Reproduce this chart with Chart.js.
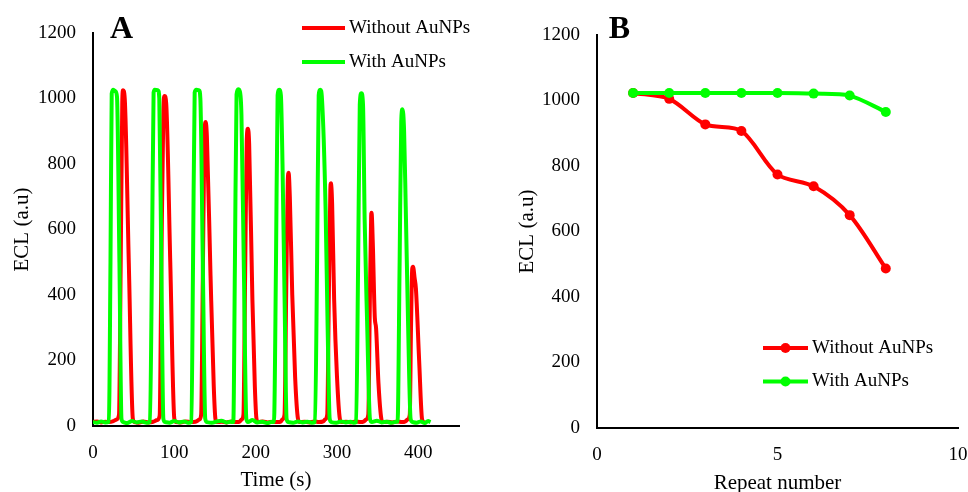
<!DOCTYPE html>
<html>
<head>
<meta charset="utf-8">
<title>ECL</title>
<script src="https://cdn.jsdelivr.net/npm/chart.js@4.4.1/dist/chart.umd.min.js"></script>
<style>
    html, body { margin: 0; padding: 0; background: #fff; }
    #contenedor { position: relative; width: 968px; height: 492px; }
    .panel { position: absolute; top: 0; height: 492px; }
    #panelA { left: 0; width: 484px; }
    #panelB { left: 505px; width: 463px; }
</style>
</head>
<body>
<div id="contenedor">
    <div class="panel" id="panelA"><canvas id="myChartA"></canvas></div>
    <div class="panel" id="panelB"><canvas id="myChartB"></canvas></div>
</div>
<script>
// Panel A: ECL vs tiempo, pares [tiempo (s), ECL]
var sinAuNPs = [
    [0,12],[5,14],[10,11],[15,13],[20,12],[25,15],[29,20],[32,35],[34,480],[36,990],[37,1025],[39,1000],[44,500],[49,22],[51,12],
    [56,10],[62,14],[68,11],[74,13],[79,18],[82,32],[84,480],[86.5,960],[88,1008],[90,985],[95,500],[100,22],[102,12],
    [108,11],[114,14],[120,12],[126,13],[131,20],[133,35],[135,450],[137,880],[138.5,928],[140,885],[144.5,460],[148.5,120],[150.5,22],[152,12],
    [158,13],[164,11],[170,14],[176,12],[180,13],[183,20],[185,35],[187,450],[189,870],[190.5,908],[192,860],[196,385],[199,120],[201,22],[203,12],
    [209,14],[215,11],[221,13],[227,12],[231,14],[233,20],[235.5,35],[237.5,400],[239.5,750],[240.5,773],[242,700],[245,400],[248.5,150],[252,22],[254,12],
    [260,13],[266,11],[272,14],[278,12],[283,14],[285.5,20],[288,35],[290,400],[291.8,720],[292.5,741],[294,680],[296.5,385],[300,150],[303.5,22],[305.5,12],
    [311,13],[317,11],[323,14],[329,12],[333,14],[336,20],[338.5,35],[340.5,400],[342,640],[342.5,651],[344,560],[346.5,330],[348,300],[351,130],[354.5,22],[356.5,12],
    [362,13],[368,11],[374,14],[380,12],[384,14],[387,20],[389.5,35],[391,300],[392.5,480],[393.5,486],[395.5,450],[397,420],[401,200],[404.5,22],[406.5,12]
];
var conAuNPs = [
    [0,12],[5,10],[10,14],[15,11],[19.5,13],[21.5,500],[23,1015],[25,1027],[27.5,1022],[29.5,1005],[32.5,500],[35,22],[37,12],
    [42,9],[48,15],[54,11],[60,14],[66,10],[70,13],[72.5,500],[74.5,1018],[76,1027],[80,1025],[81.5,1000],[84,500],[86.5,22],[88.5,12],
    [94,10],[100,15],[106,11],[112,14],[117,10],[121,13],[123,500],[125,1018],[127,1027],[130.5,1025],[132,1000],[135,500],[138,22],[140,12],
    [146,10],[152,14],[158,16],[164,11],[169,13],[172.5,12],[174.5,500],[176.5,1012],[178.5,1028],[180.5,1022],[182.5,950],[185.5,480],[188.5,22],[190.5,12],
    [196,18],[202,11],[208,13],[214,9],[219,12],[222.5,13],[225,500],[227,1010],[229,1027],[231,1010],[233,800],[235.5,400],[238,22],[240,12],
    [246,10],[252,14],[258,11],[264,13],[269,10],[273,12],[275.5,500],[277.5,1010],[279.5,1027],[281.5,1000],[286,660],[288.5,300],[291,22],[293,12],
    [299,10],[305,14],[311,11],[317,13],[320.5,10],[323.5,12],[326,500],[328,980],[330,1016],[332,980],[334,630],[337,320],[340.5,22],[343,12],
    [349,16],[355,11],[361,13],[367,10],[371.5,12],[374.5,13],[377,500],[379,930],[380.5,967],[382.5,900],[384.5,670],[387.5,300],[390.5,22],[393,12],
    [398,10],[403,14],[408,9],[412,15],[415,12]
];

// Panel B: ECL vs numero de repeticion
var repeticion = [1, 2, 3, 4, 5, 6, 7, 8];
var eclSinAuNPs = [1023, 1005, 927, 907, 774, 738, 650, 487];
var eclConAuNPs = [1023, 1023, 1023, 1023, 1023, 1021, 1015, 965];

var etiquetas = ['Without AuNPs', 'With AuNPs'];
var rojo = '#ff0000';
var verde = '#00ff00';
var fuente = "'Times New Roman', 'Liberation Serif', serif";

// leyenda y letra del panel dibujadas a mano
var leyendaManual = {
    id: 'leyendaManual',
    afterDraw: function (chart, args, opts) {
        var ctx = chart.ctx;
        ctx.save();
        ctx.font = '19px ' + fuente;
        ctx.textBaseline = 'middle';
        ctx.textAlign = 'left';
        chart.data.datasets.forEach(function (ds, i) {
            var y = opts.y + i * opts.sep;
            ctx.strokeStyle = ds.borderColor;
            ctx.lineWidth = 4;
            ctx.beginPath();
            ctx.moveTo(opts.x, y);
            ctx.lineTo(opts.x + opts.largo, y);
            ctx.stroke();
            if (opts.marcador) {
                ctx.fillStyle = ds.borderColor;
                ctx.beginPath();
                ctx.arc(opts.x + opts.largo / 2, y, 5, 0, Math.PI * 2);
                ctx.fill();
            }
            ctx.fillStyle = '#000';
            ctx.fillText(ds.label, opts.x + opts.largo + 4, y);
        });
        ctx.font = 'bold 32px ' + fuente;
        ctx.textAlign = 'center';
        ctx.fillStyle = '#000';
        ctx.fillText(opts.letra, opts.letraX, opts.letraY);
        ctx.restore();
    }
};

function puntos(pares) {
    return pares.map(function (p) { return { x: p[0], y: p[1] }; });
}

function sinComas(valor) {
    return String(valor);
}

function ejes(xmax, xpaso, titulo, altoX, anchoY, tituloLH, tituloPad) {
    return {
        x: {
            type: 'linear', min: 0, max: xmax,
            grid: { display: false, drawTicks: false },
            border: { display: true, color: '#000', width: 2 },
            ticks: { stepSize: xpaso, includeBounds: false, padding: 15.5, maxRotation: 0, color: '#000', font: { family: fuente, size: 19 }, callback: sinComas },
            title: { display: true, text: titulo, color: '#000', font: { family: fuente, size: 21, lineHeight: tituloLH }, padding: { top: 0, bottom: tituloPad } },
            afterFit: function (s) { s.height = altoX; s.paddingLeft = 0; s.paddingRight = 0; }
        },
        y: {
            type: 'linear', min: 0, max: 1200,
            grid: { display: false, drawTicks: false },
            border: { display: true, color: '#000', width: 2 },
            ticks: { stepSize: 200, padding: 17, color: '#000', font: { family: fuente, size: 19 }, callback: sinComas },
            title: { display: true, text: 'ECL (a.u)', color: '#000', font: { family: fuente, size: 21, lineHeight: 1 }, padding: { top: 11.5, bottom: 0 } },
            afterFit: function (s) { s.width = anchoY; s.paddingTop = 0; s.paddingBottom = 0; }
        }
    };
}

var myChartA = new Chart(document.getElementById('myChartA'), {
    type: 'line',
    data: {
        datasets: [{
            label: etiquetas[0],
            data: puntos(sinAuNPs),
            borderColor: rojo,
            backgroundColor: rojo,
            borderWidth: 4,
            pointRadius: 0,
            cubicInterpolationMode: 'monotone',
            order: 1
        }, {
            label: etiquetas[1],
            data: puntos(conAuNPs),
            borderColor: verde,
            backgroundColor: verde,
            borderWidth: 4,
            pointRadius: 0,
            cubicInterpolationMode: 'monotone',
            order: 0
        }]
    },
    options: {
        responsive: true,
        maintainAspectRatio: false,
        animation: false,
        layout: { padding: { top: 33, right: 25, left: 0, bottom: 0 } },
        scales: ejes(450, 100, 'Time (s)', 66, 93, 1, 1.5),
        plugins: {
            legend: { display: false },
            tooltip: { enabled: false },
            leyendaManual: { x: 302, y: 28, sep: 34, largo: 43, marcador: false, letra: 'A', letraX: 121.5, letraY: 30 }
        }
    },
    plugins: [leyendaManual]
});

var myChartB = new Chart(document.getElementById('myChartB'), {
    type: 'line',
    data: {
        datasets: [{
            label: etiquetas[0],
            data: repeticion.map(function (r, i) { return { x: r, y: eclSinAuNPs[i] }; }),
            borderColor: rojo,
            backgroundColor: rojo,
            borderWidth: 4,
            pointRadius: 5,
            pointBackgroundColor: rojo,
            pointBorderWidth: 0,
            tension: 0.3,
            order: 1
        }, {
            label: etiquetas[1],
            data: repeticion.map(function (r, i) { return { x: r, y: eclConAuNPs[i] }; }),
            borderColor: verde,
            backgroundColor: verde,
            borderWidth: 4,
            pointRadius: 5,
            pointBackgroundColor: verde,
            pointBorderWidth: 0,
            tension: 0.3,
            order: 0
        }]
    },
    options: {
        responsive: true,
        maintainAspectRatio: false,
        animation: false,
        layout: { padding: { top: 35, right: 10, left: 0, bottom: 0 } },
        scales: ejes(10, 5, 'Repeat number', 64, 92, 0.85, 0),
        plugins: {
            legend: { display: false },
            tooltip: { enabled: false },
            leyendaManual: { x: 258, y: 348, sep: 33.5, largo: 45, marcador: true, letra: 'B', letraX: 114.5, letraY: 30 }
        }
    },
    plugins: [leyendaManual]
});
</script>
</body>
</html>
